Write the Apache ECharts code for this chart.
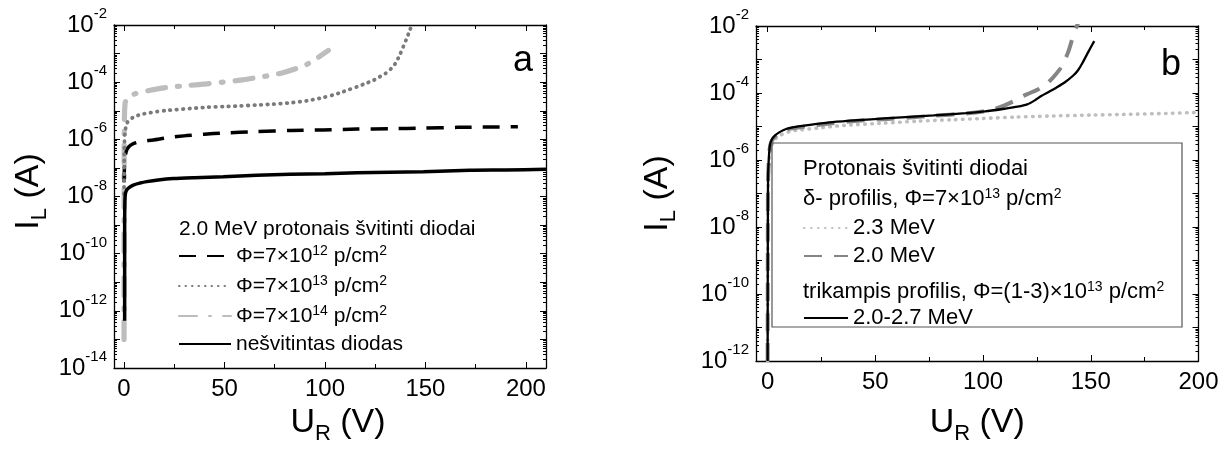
<!DOCTYPE html>
<html>
<head>
<meta charset="utf-8">
<script src="https://cdn.jsdelivr.net/npm/echarts@6/dist/echarts.min.js"></script>
<style>
html,body{margin:0;padding:0;background:#fff}
#chart{width:1229px;height:450px}
</style>
</head>
<body>
<div id="chart"></div>
<script>
// Reverse voltage U_R (V) and log10 of the leakage current I_L (A)

// ---- panel a: 2.0 MeV proton irradiated diodes ----
const aPhi12U    = [0, 0.2, 0.6, 1.3, 2.5, 4.6, 8, 14.6, 22, 31, 40, 49, 66, 83, 99, 116, 132, 149, 166, 182, 196];
const aPhi12LogI = [-7.5, -7.0, -6.6, -6.38, -6.25, -6.15, -6.08, -6.02, -5.94, -5.87, -5.82, -5.78, -5.73, -5.69, -5.67, -5.64, -5.63, -5.61, -5.58, -5.57, -5.56];

const aPhi13U    = [0, 0.1, 0.4, 1.3, 2.5, 4.6, 7, 9.6, 13, 16.3, 21, 26, 33, 41, 50, 58, 66, 74, 83, 91, 99, 104, 108, 112, 116, 120, 124, 127, 130, 133, 135, 137.3, 139, 140.5, 142.3, 143.5];
const aPhi13LogI = [-7.9, -6.5, -5.8, -5.46, -5.33, -5.23, -5.16, -5.11, -5.07, -5.03, -4.99, -4.96, -4.92, -4.88, -4.85, -4.83, -4.80, -4.77, -4.72, -4.65, -4.54, -4.45, -4.36, -4.26, -4.16, -4.05, -3.94, -3.82, -3.70, -3.52, -3.35, -3.04, -2.75, -2.5, -2.17, -1.95];

const aPhi14U    = [0, 0.1, 0.5, 2.1, 5, 8, 14, 21, 28, 33, 41, 49, 58, 66, 73, 79, 85, 91, 96, 101.7];
const aPhi14LogI = [-13.0, -6.0, -4.75, -4.5, -4.42, -4.36, -4.27, -4.19, -4.14, -4.11, -4.06, -4.0, -3.93, -3.84, -3.76, -3.67, -3.54, -3.38, -3.16, -2.89];

const aRefU    = [0.3, 0.3, 0.4, 0.6, 1, 2.1, 4.6, 8, 11.3, 17, 24.5, 35, 49.4, 66, 82.6, 100, 116, 132, 149, 172, 190, 210];
const aRefLogI = [-12.35, -9, -8.2, -7.94, -7.82, -7.71, -7.6, -7.53, -7.48, -7.42, -7.37, -7.34, -7.31, -7.26, -7.22, -7.2, -7.17, -7.15, -7.13, -7.08, -7.07, -7.05];

// ---- panel b: delta and triangular profile irradiation ----
const b23U    = [0, 0.1, 0.3, 0.8, 1.5, 2.5, 4, 6, 8, 11, 15, 23, 35, 54, 70, 85, 100, 115, 130, 150, 165, 185, 200];
const b23LogI = [-12, -8, -6.6, -5.95, -5.65, -5.47, -5.35, -5.26, -5.2, -5.14, -5.1, -5.05, -4.97, -4.9, -4.84, -4.8, -4.76, -4.72, -4.69, -4.66, -4.64, -4.61, -4.58];

const b20U    = [0, 0.1, 0.2, 0.6, 1.1, 2, 3.4, 5, 7.2, 10, 15, 22, 30, 42, 54, 66, 77, 92, 100, 105, 110, 115, 120, 126.3, 130, 133, 136.4, 139.5, 141.8, 143.5, 144.5];
const b20LogI = [-12, -8, -6.6, -5.95, -5.6, -5.42, -5.3, -5.22, -5.14, -5.07, -5.02, -4.96, -4.9, -4.83, -4.78, -4.73, -4.68, -4.61, -4.55, -4.48, -4.37, -4.22, -4.05, -3.87, -3.7, -3.5, -3.22, -2.78, -2.3, -2.0, -1.85];

const bTriU    = [0, 0.1, 0.2, 0.6, 1.1, 2, 3.4, 5, 7.2, 10, 15, 22, 30, 42, 54, 66, 77, 92, 101, 110, 116, 120.5, 124, 127, 131, 134, 138, 142, 144, 146, 148.8, 151.6];
const bTriLogI = [-12, -8, -6.5, -5.9, -5.55, -5.38, -5.27, -5.19, -5.11, -5.05, -4.99, -4.93, -4.87, -4.81, -4.76, -4.71, -4.67, -4.6, -4.55, -4.47, -4.41, -4.34, -4.22, -4.09, -3.95, -3.84, -3.68, -3.47, -3.33, -3.12, -2.78, -2.45];

// ---- axis ticks ----
const xMajorTicks = [0, 50, 100, 150, 200];
const xMinorTicks = [25, 75, 125, 175];
const aYLabels = [-14, -12, -10, -8, -6, -4, -2];
const bYLabels = [-12, -10, -8, -6, -4, -2];

// ---- legend entries ----
const aHeader = '2.0 MeV protonais švitinti diodai';
const aNames = ['Φ=7×10^12 p/cm^2', 'Φ=7×10^13 p/cm^2', 'Φ=7×10^14 p/cm^2', 'nešvitintas diodas'];
const bHeader1 = 'Protonais švitinti diodai';
const bHeader2 = 'δ- profilis, Φ=7×10^13 p/cm^2';
const bHeader3 = 'trikampis profilis, Φ=(1-3)×10^13 p/cm^2';
const bNames = ['2.3 MeV', '2.0 MeV', '2.0-2.7 MeV'];

const FONT = "'Liberation Sans', Arial, Helvetica, sans-serif";

function pairs(u, l) { return u.map((v, i) => [v, l[i]]); }
// "10^13" -> rich text with the exponent raised
function richify(s, t, sp) {
  return s.split(/\^(\d+)/).map((p, i) => p === '' ? '' : (i % 2 ? '{' + sp + '|' + p + '}' : '{' + t + '|' + p + '}')).join('');
}

const tickRich = {
  b: { fontSize: 24, fontFamily: FONT, color: '#000', lineHeight: 37 },
  s: { fontSize: 15, fontFamily: FONT, color: '#000', lineHeight: 14, verticalAlign: 'top' }
};
const titleRich = {
  m: { fontSize: 34, fontFamily: FONT, color: '#000', lineHeight: 44 },
  sub: { fontSize: 22, fontFamily: FONT, color: '#000', lineHeight: 20, verticalAlign: 'bottom' }
};
function legRich(fs) {
  return {
    t: { fontSize: fs, fontFamily: FONT, color: '#000', lineHeight: 24 },
    s: { fontSize: 14, fontFamily: FONT, color: '#000', lineHeight: 14, verticalAlign: 'top' }
  };
}

function logMinor(lo, hi) {
  const out = [];
  for (let e = lo; e < hi; e++) for (let k = 2; k <= 9; k++) out.push(e + Math.log10(k));
  return out;
}

const lineCol = '#000';
function makeX(g, min, max, gap, pad) {
  const base = { gridIndex: g, type: 'value', min, max, splitLine: { show: false } };
  const line = { show: true, onZero: false, lineStyle: { color: lineCol, width: 1.3 } };
  const hidden = { show: false, onZero: false };
  return [
    Object.assign({}, base, {
      position: 'bottom', axisLine: line,
      axisTick: { inside: true, length: 6, customValues: xMajorTicks, lineStyle: { color: lineCol, width: 1 } },
      axisLabel: { customValues: xMajorTicks, fontSize: 24, fontFamily: FONT, color: '#000', margin: 9 },
      name: '{m|U}{sub|R}{m| (V)}', nameLocation: 'middle', nameGap: gap,
      nameTextStyle: { rich: titleRich, padding: pad }
    }),
    Object.assign({}, base, {
      position: 'bottom', axisLine: hidden,
      axisTick: { inside: true, length: 4, customValues: xMinorTicks, lineStyle: { color: lineCol, width: 1 } },
      axisLabel: { show: false }
    }),
    Object.assign({}, base, {
      position: 'top', axisLine: line,
      axisTick: { inside: true, length: 6, customValues: xMajorTicks, lineStyle: { color: lineCol, width: 1 } },
      axisLabel: { show: false }
    }),
    Object.assign({}, base, {
      position: 'top', axisLine: hidden,
      axisTick: { inside: true, length: 4, customValues: xMinorTicks, lineStyle: { color: lineCol, width: 1 } },
      axisLabel: { show: false }
    })
  ];
}

function makeY(g, min, max, labels, gap, pad) {
  const base = { gridIndex: g, type: 'value', min, max, splitLine: { show: false } };
  const line = { show: true, onZero: false, lineStyle: { color: lineCol, width: 1.3 } };
  const hidden = { show: false, onZero: false };
  const minor = logMinor(min, max);
  const major = { inside: true, length: 6, lineStyle: { color: lineCol, width: 1 } };
  const small = { inside: true, length: 3, customValues: minor, lineStyle: { color: lineCol, width: 1 } };
  return [
    Object.assign({}, base, {
      position: 'left', interval: 1, axisLine: line, axisTick: major,
      axisLabel: { customValues: labels, margin: 7, formatter: v => '{b|10}{s|' + v + '}', rich: tickRich },
      name: '{m|I}{sub|L}{m| (A)}', nameLocation: 'middle', nameGap: gap,
      nameTextStyle: { rich: titleRich, padding: pad }
    }),
    Object.assign({}, base, { position: 'left', axisLine: hidden, axisTick: small, axisLabel: { show: false } }),
    Object.assign({}, base, { position: 'right', interval: 1, axisLine: line, axisTick: major, axisLabel: { show: false } }),
    Object.assign({}, base, { position: 'right', axisLine: hidden, axisTick: small, axisLabel: { show: false } })
  ];
}

function series(name, g, u, l, style, z) {
  return {
    name, type: 'line', xAxisIndex: g * 4, yAxisIndex: g * 4,
    data: pairs(u, l), showSymbol: false, symbol: 'none', smooth: 0.25, z: z || 2,
    color: style.color, lineStyle: style, itemStyle: { color: style.color }
  };
}

const aStyles = [
  { color: '#000000', width: 3.5, type: [17, 11], cap: 'butt' },
  { color: '#7a7a7a', width: 3.8, type: [0.5, 6], cap: 'round' },
  { color: '#bdbdbd', width: 5.2, type: [18, 12, 2, 12], cap: 'round' },
  { color: '#000000', width: 3.5, type: 'solid', cap: 'butt' }
];
const bStyles = [
  { color: '#bebebe', width: 3.6, type: [0.5, 6.5], cap: 'round' },
  { color: '#858585', width: 4, type: [18, 12], cap: 'butt' },
  { color: '#000000', width: 2.3, type: 'solid', cap: 'butt' }
];

const seriesList = [
  series(aNames[0], 0, aPhi12U, aPhi12LogI, aStyles[0], 3),
  series(aNames[1], 0, aPhi13U, aPhi13LogI, aStyles[1], 3),
  series(aNames[2], 0, aPhi14U, aPhi14LogI, aStyles[2], 2),
  series(aNames[3], 0, aRefU, aRefLogI, aStyles[3], 4),
  series(bNames[0], 1, b23U, b23LogI, bStyles[0], 2),
  series(bNames[1], 1, b20U, b20LogI, bStyles[1], 3),
  series(bNames[2], 1, bTriU, bTriLogI, bStyles[2], 4)
];

function legendItem(name, left, cy, w, fs) {
  return {
    data: [name], orient: 'vertical', left, top: cy - 15, padding: 0,
    itemWidth: w, itemHeight: 30, selectedMode: false,
    itemStyle: { opacity: 0 },
    textStyle: { fontFamily: FONT, fontSize: fs, color: '#000', rich: legRich(fs) },
    formatter: n => richify(n, 't', 's')
  };
}

const aLegendY = [259, 289, 319, 347];
const bLegendY = [231, 259, 321];

const option = {
  animation: false,
  backgroundColor: '#fff',
  grid: [
    { left: 114, top: 25, width: 432, height: 347 },
    { left: 756, top: 26, width: 442.5, height: 335 }
  ],
  xAxis: [].concat(makeX(0, -5, 210, 33, [0, 0, 0, 16]), makeX(1, -5.4, 200, 40, 0)),
  yAxis: [].concat(makeY(0, -14, -2, aYLabels, 63, [0, 0, 0, 10]), makeY(1, -12, -2, bYLabels, 76, 0)),
  legend: [
    legendItem(aNames[0], 178, aLegendY[0], 52, 21),
    legendItem(aNames[1], 178, aLegendY[1], 52, 21),
    legendItem(aNames[2], 178, aLegendY[2], 52, 21),
    legendItem(aNames[3], 178, aLegendY[3], 52, 21),
    legendItem(bNames[0], 803, bLegendY[0], 44, 22),
    legendItem(bNames[1], 803, bLegendY[1], 44, 22),
    legendItem(bNames[2], 803, bLegendY[2], 44, 22)
  ],
  graphic: [
    { type: 'text', x: 179, y: 229, style: { text: aHeader, font: '21px ' + FONT, fill: '#000', verticalAlign: 'middle' } },
    { type: 'rect', shape: { x: 772, y: 143, width: 410, height: 184 }, style: { fill: 'none', stroke: '#555', lineWidth: 1.2 }, z: 10 },
    { type: 'text', x: 803, y: 169, style: { text: bHeader1, font: '22px ' + FONT, fill: '#000', verticalAlign: 'middle' } },
    { type: 'text', x: 803, y: 199, style: { text: richify(bHeader2, 't', 's'), rich: legRich(22), verticalAlign: 'middle' } },
    { type: 'text', x: 803, y: 292, style: { text: richify(bHeader3, 't', 's'), rich: legRich(22), verticalAlign: 'middle' } },
    { type: 'text', x: 513, y: 61, style: { text: 'a', font: '36px ' + FONT, fill: '#000', verticalAlign: 'middle' } },
    { type: 'text', x: 1161, y: 65, style: { text: 'b', font: '36px ' + FONT, fill: '#000', verticalAlign: 'middle' } }
  ],
  series: seriesList
};

const chart = echarts.init(document.getElementById('chart'), null, { renderer: 'canvas' });
chart.setOption(option);
</script>
</body>
</html>
